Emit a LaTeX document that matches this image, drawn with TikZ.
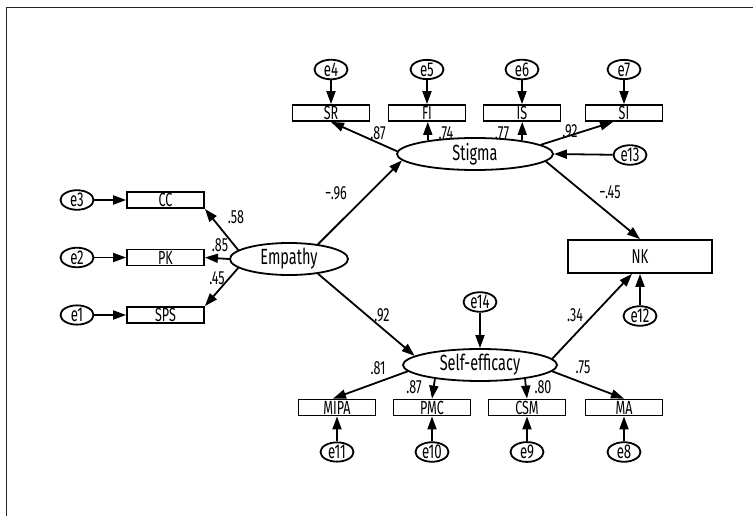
\documentclass[tikz,border=0pt]{standalone}
\usepackage{fontspec}
\setmainfont{Fira Sans}[FakeStretch=0.66]
\usetikzlibrary{shapes.geometric,arrows.meta}
\begin{document}
\begin{tikzpicture}[x=1pt,y=-1pt,line width=1.8pt,
  obs/.style={draw,rectangle,minimum width=77pt,minimum height=16pt,inner sep=0pt,font=\fontsize{19}{19}\selectfont},
  lat/.style={draw,ellipse,minimum width=156pt,minimum height=32pt,inner sep=0pt,font=\fontsize{22}{22}\selectfont},
  err/.style={draw,ellipse,minimum width=33pt,minimum height=19pt,inner sep=0pt,font=\fontsize{20}{20}\selectfont},
  lbl/.style={inner sep=0pt,font=\fontsize{19}{19}\selectfont},
  arr/.style={-{Triangle[length=13pt,width=9pt]}}]
\useasboundingbox (0,0) rectangle (753,516);
\draw[line width=1pt,black!85] (6,516) -- (6,8) -- (753,8);
% latent variables
\node[lat,minimum width=118pt] (Emp) at (289,259) {Empathy};
\node[lat] (Stig) at (475,154) {Stigma};
\node[lat,minimum width=154pt] (SE) at (480,365) {Self-efficacy};
% observed
\node[obs] (CC) at (165.5,200) {\raisebox{-3pt}{CC}};
\node[obs] (PK) at (165.5,257.5) {\raisebox{-3pt}{PK}};
\node[obs] (SPS) at (165.5,315) {\raisebox{-3pt}{SPS}};
\node[obs] (SR) at (331,113) {\raisebox{-3pt}{SR}};
\node[obs] (FI) at (427,113) {\raisebox{-3pt}{FI}};
\node[obs] (IS) at (522,113) {\raisebox{-3pt}{IS}};
\node[obs] (SI) at (624,113) {\raisebox{-3pt}{SI}};
\node[obs] (MIPA) at (337,407.5) {\raisebox{-3pt}{MIPA}};
\node[obs] (PMC) at (432,407.5) {\raisebox{-3pt}{PMC}};
\node[obs] (CSM) at (527,407.5) {\raisebox{-3pt}{CSM}};
\node[obs] (MA) at (624,407.5) {\raisebox{-3pt}{MA}};
\node[draw,rectangle,minimum width=144pt,minimum height=33pt,inner sep=0pt,font=\fontsize{20}{20}\selectfont] (NK) at (640,256.5) {NK};
% errors
\node[err] (e1) at (77,315) {e1};
\node[err] (e2) at (77,257.5) {e2};
\node[err] (e3) at (77,200) {e3};
\node[err] (e4) at (331,69.5) {e4};
\node[err] (e5) at (427,69.5) {e5};
\node[err] (e6) at (522,69.5) {e6};
\node[err] (e7) at (624,69.5) {e7};
\node[err] (e8) at (624,452) {e8};
\node[err] (e9) at (527,452) {e9};
\node[err] (e10) at (432,452) {e10};
\node[err] (e11) at (337,452) {e11};
\node[err] (e12) at (640,316) {e12};
\node[err] (e13) at (630,155) {e13};
\node[err] (e14) at (480,302) {e14};
% error arrows
\draw[arr] (e1) -- (SPS);
\draw[arr] (e2) -- (PK);
\draw[arr] (e3) -- (CC);
\draw[arr] (e4) -- (SR);
\draw[arr] (e5) -- (FI);
\draw[arr] (e6) -- (IS);
\draw[arr] (e7) -- (SI);
\draw[arr] (e8) -- (MA);
\draw[arr] (e9) -- (CSM);
\draw[arr] (e10) -- (PMC);
\draw[arr] (e11) -- (MIPA);
\draw[arr] (e12) -- (NK.south);
\draw[arr] (e13) -- (Stig.east);
\draw[arr] (e14) -- (SE.north);
% Empathy loadings
\draw[arr] (Emp.170) -- (CC.south east);
\draw[arr] (Emp.west) -- (PK.east);
\draw[arr] (Emp.190) -- (SPS.north east);
% structural
\draw[arr] (Emp.27) -- (Stig.185);
\draw[arr] (Emp.333) -- (SE.172);
\draw[arr] (Stig.354) -- (NK.north);
\draw[arr] (SE.5) -- ([xshift=-8pt]NK.south);
% Stigma loadings
\draw[arr] (Stig.178) -- (SR.south);
\draw[arr] (Stig.164) -- (Stig.164 |- FI.south);
\draw[arr] (Stig.16) -- (Stig.16 |- IS.south);
\draw[arr] (Stig.8) -- ([xshift=-11pt]SI.south);
% Self-efficacy loadings
\draw[arr] (SE.185) -- ([xshift=-4pt]MIPA.north);
\draw[arr] (SE.197) -- (PMC.north);
\draw[arr] (SE.343) -- (CSM.north);
\draw[arr] (SE.355) -- (MA.north);
% labels
\node[lbl] (l1) at (378,133) {.87};
\node[lbl] (l2) at (446,133) {.74};
\node[lbl] (l3) at (502,133) {.77};
\node[lbl] (l4) at (570,131) {.92};
\node[lbl] (l5) at (336,193) {−.96};
\node[lbl] (l6) at (236,217) {.58};
\node[lbl] (l7) at (220,245) {.85};
\node[lbl] (l8) at (217,278) {.45};
\node[lbl] (l9) at (382,315) {.92};
\node[lbl] (l10) at (575,315) {.34};
\node[lbl] (l11) at (378,368) {.81};
\node[lbl] (l12) at (414,387) {.87};
\node[lbl] (l13) at (543,387) {.80};
\node[lbl] (l14) at (583,367) {.75};
\node[lbl] (l15) at (610,192) {−.45};
\end{tikzpicture}
\end{document}
